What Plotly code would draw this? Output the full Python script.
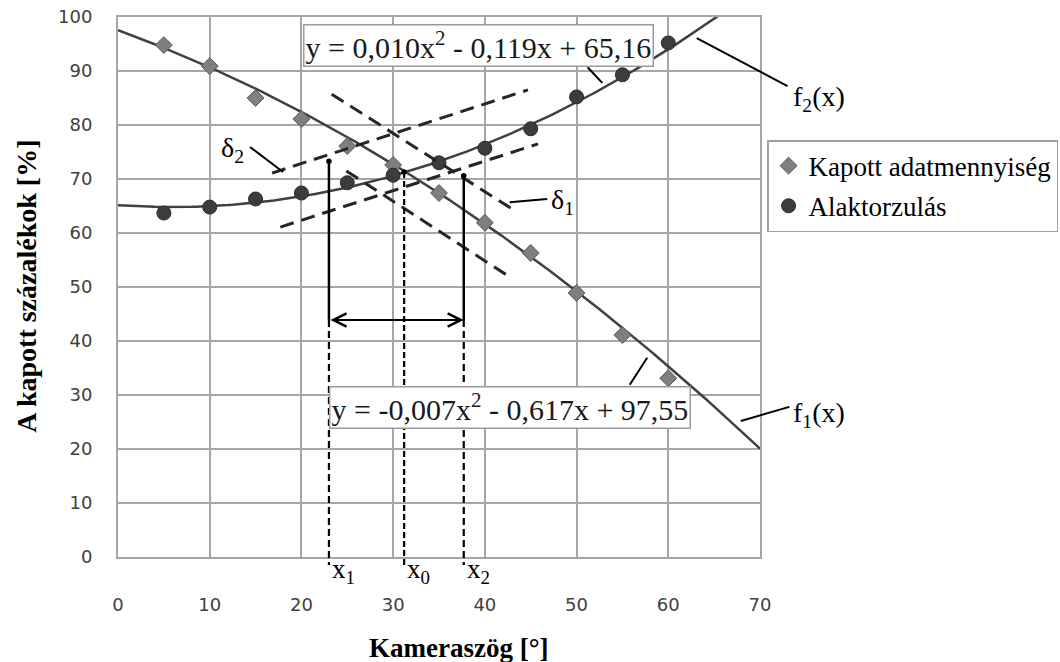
import plotly.graph_objects as go
import numpy as np

# ---------------- data ----------------
angles = [5, 10, 15, 20, 25, 30, 35, 40, 45, 50, 55, 60]
kapott = [94.8, 90.9, 85.0, 81.1, 76.1, 72.6, 67.4, 61.9, 56.3, 48.9, 41.1, 33.1]
alaktorz = [63.7, 64.8, 66.3, 67.4, 69.3, 70.7, 73.0, 75.7, 79.3, 85.2, 89.3, 95.2]

# trendline coefficients as printed on the chart (a, b, c for a*x^2 + b*x + c)
f1_coef = [-0.007, -0.617, 97.55]
f2_coef = [0.010, -0.119, 65.16]
trend_x = list(np.linspace(0, 70, 141))

# tolerance-band dashed lines: (x0, y0, x1, y1)
band_lines = [
    (16.8, 71.1, 44.7, 86.5),   # upper, rising
    (17.7, 61.1, 45.8, 76.5),   # lower, rising
    (23.3, 85.7, 43.3, 64.1),   # upper, falling
    (24.9, 71.5, 42.4, 52.2),   # lower, falling
]
# characteristic points
x1, y1 = 23.0, 73.3
x0, y0 = 31.2, 71.3
x2, y2 = 37.7, 70.6
arrow_y = 43.9

eq1_text = "y = 0,010x<sup>2</sup> - 0,119x + 65,16"
eq2_text = "y = -0,007x<sup>2</sup> - 0,617x + 97,55"

X_RANGE = [0, 70]
Y_RANGE = [0, 100]
x_ticks = [0, 10, 20, 30, 40, 50, 60, 70]
y_ticks = [0, 10, 20, 30, 40, 50, 60, 70, 80, 90, 100]

SERIF = "Liberation Serif, Times New Roman, serif"
SANS = "DejaVu Sans, sans-serif"


def poly(coef, xs):
    a, b, c = coef
    return [a * x * x + b * x + c for x in xs]


def px(x):  # data x -> paper
    return (x - X_RANGE[0]) / (X_RANGE[1] - X_RANGE[0])


def py(y):  # data y -> paper
    return (y - Y_RANGE[0]) / (Y_RANGE[1] - Y_RANGE[0])


fig = go.Figure()

# trendlines
fig.add_trace(go.Scatter(x=trend_x, y=poly(f1_coef, trend_x), mode="lines",
                         line=dict(color="#404040", width=2.5), showlegend=False,
                         hoverinfo="skip"))
fig.add_trace(go.Scatter(x=trend_x, y=poly(f2_coef, trend_x), mode="lines",
                         line=dict(color="#404040", width=2.5), showlegend=False,
                         hoverinfo="skip"))

# data series
fig.add_trace(go.Scatter(x=angles, y=kapott, mode="markers", name="Kapott adatmennyiség",
                         marker=dict(symbol="diamond", size=13, color="#7f7f7f",
                                     line=dict(color="#5a5a5a", width=1)),
                         legendgroup="a"))
fig.add_trace(go.Scatter(x=angles, y=alaktorz, mode="markers", name="Alaktorzulás",
                         marker=dict(symbol="circle", size=14, color="#3c3c3c",
                                     line=dict(color="#2a2a2a", width=1)),
                         legendgroup="b"))

shapes = []
# dashed band lines
for (xa, ya, xb, yb) in band_lines:
    shapes.append(dict(type="line", xref="x", yref="y", x0=xa, y0=ya, x1=xb, y1=yb,
                       line=dict(color="#262626", width=3, dash="14px,8px")))

# solid verticals x1 / x2 above arrow
for xv, yv in [(x1, y1), (x2, y2)]:
    shapes.append(dict(type="line", xref="x", yref="y", x0=xv, y0=arrow_y, x1=xv, y1=yv,
                       line=dict(color="black", width=2.5)))
# dashed verticals below arrow (extend slightly below axis)
for xv in [x1, x2]:
    shapes.append(dict(type="line", xref="x", yref="paper", x0=xv, y0=py(arrow_y), x1=xv,
                       y1=-0.015, line=dict(color="black", width=2.2, dash="7px,4px")))
# x0 dashed all the way
shapes.append(dict(type="line", xref="x", yref="paper", x0=x0, y0=py(y0), x1=x0, y1=-0.015,
                   line=dict(color="black", width=2.2, dash="6px,3px")))

# small dots at top points
for xv, yv in [(x1, y1), (x0, y0), (x2, y2)]:
    shapes.append(dict(type="circle", xref="x", yref="y", x0=xv - 0.3, x1=xv + 0.3,
                       y0=yv - 0.5, y1=yv + 0.5, fillcolor="black", line=dict(width=0)))

# leader lines (paper coords so they can leave the plot)
leaders = [
    ((14.4, 75.9), (18.0, 71.3)),   # delta2
    ((42.7, 65.7), (46.8, 66.3)),   # delta1
    ((63.1, 96.1), (73.0, 87.2)),   # f2(x)
    ((67.9, 25.2), (73.2, 27.8)),   # f1(x)
    ((51.2, 90.7), (52.8, 87.8)),   # eq1 -> f2
    ((55.8, 31.9), (57.7, 36.9)),   # eq2 -> f1
]
for (xa, ya), (xb, yb) in leaders:
    shapes.append(dict(type="line", xref="paper", yref="paper", x0=px(xa), y0=py(ya),
                       x1=px(xb), y1=py(yb), line=dict(color="black", width=2)))

annotations = []
# double arrow
annotations.append(dict(x=x2, y=arrow_y, ax=x1, ay=arrow_y, xref="x", yref="y",
                        axref="x", ayref="y", showarrow=True, arrowside="end+start",
                        arrowhead=5, startarrowhead=5, arrowsize=1.3, startarrowsize=1.3,
                        arrowwidth=2, arrowcolor="black", text=""))
# equation boxes
eq_font = dict(family=SERIF, size=30, color="#1a1a1a")
annotations.append(dict(x=39.3, y=94.8, xref="x", yref="y", text=eq1_text, showarrow=False,
                        font=eq_font, xanchor="center", yanchor="middle",
                        bgcolor="white", bordercolor="#9a9a9a", borderwidth=1.5, borderpad=1))
annotations.append(dict(x=42.7, y=27.6, xref="x", yref="y", text=eq2_text, showarrow=False,
                        font=eq_font, xanchor="center", yanchor="middle",
                        bgcolor="white", bordercolor="#9a9a9a", borderwidth=1.5, borderpad=1))
# labels
lab_font = dict(family=SERIF, size=28, color="black")
annotations.append(dict(x=px(14.0), y=py(75.5), xref="paper", yref="paper", text="δ<sub>2</sub>",
                        showarrow=False, xanchor="right", yanchor="middle", font=lab_font))
annotations.append(dict(x=px(47.0), y=py(65.9), xref="paper", yref="paper", text="δ<sub>1</sub>",
                        showarrow=False, xanchor="left", yanchor="middle", font=lab_font))
annotations.append(dict(x=px(73.4), y=py(85.0), xref="paper", yref="paper", text="f<sub>2</sub>(x)",
                        showarrow=False, xanchor="left", yanchor="middle", font=lab_font))
annotations.append(dict(x=px(73.4), y=py(26.3), xref="paper", yref="paper", text="f<sub>1</sub>(x)",
                        showarrow=False, xanchor="left", yanchor="middle", font=lab_font))
for xv, t in [(x1, "x<sub>1</sub>"), (x0, "x<sub>0</sub>"), (x2, "x<sub>2</sub>")]:
    annotations.append(dict(x=px(xv) + 0.002, y=0.01, xref="paper", yref="paper", text=t,
                            showarrow=False, xanchor="left", yanchor="top",
                            font=dict(family=SERIF, size=27, color="black")))
# axis titles
annotations.append(dict(x=0.531, y=-0.168, xref="paper", yref="paper", text="<b>Kameraszög [°]</b>",
                        showarrow=False, xanchor="center", yanchor="middle",
                        font=dict(family=SERIF, size=27, color="black")))
annotations.append(dict(x=-0.142, y=0.502, xref="paper", yref="paper",
                        text="<b>A kapott százalékok [%]</b>", textangle=-90,
                        showarrow=False, xanchor="center", yanchor="middle",
                        font=dict(family=SERIF, size=28, color="black")))

fig.update_layout(
    width=1060, height=662,
    margin=dict(l=118, r=300, t=17, b=105, autoexpand=False),
    paper_bgcolor="white", plot_bgcolor="white",
    shapes=shapes, annotations=annotations,
    legend=dict(x=1.011, y=0.772, xanchor="left", yanchor="top",
                font=dict(family=SERIF, size=27, color="black"),
                bordercolor="#a0a0a0", borderwidth=1.5, bgcolor="white",
                tracegroupgap=2, itemwidth=30),
    xaxis=dict(range=X_RANGE, tickvals=x_ticks, showgrid=True, gridcolor="#a6a6a6",
               gridwidth=2, zeroline=False, showline=True, linecolor="#a6a6a6", linewidth=2,
               mirror=True, ticks="", ticklabelstandoff=30, ticklabeloverflow="allow",
               tickfont=dict(family=SANS, size=18, color="#404040")),
    yaxis=dict(range=Y_RANGE, tickvals=y_ticks, showgrid=True, gridcolor="#a6a6a6",
               gridwidth=2, zeroline=False, showline=True, linecolor="#a6a6a6", linewidth=2,
               mirror=True, ticks="", ticklabelstandoff=20, ticklabeloverflow="allow",
               tickfont=dict(family=SANS, size=18, color="#404040")),
)

# remove the browser's default 8px page margin so the figure fills the window exactly
fig.write_html("out.html", config={"displayModeBar": False},
               post_script="document.body.style.margin='0px';document.body.style.overflow='hidden';")
